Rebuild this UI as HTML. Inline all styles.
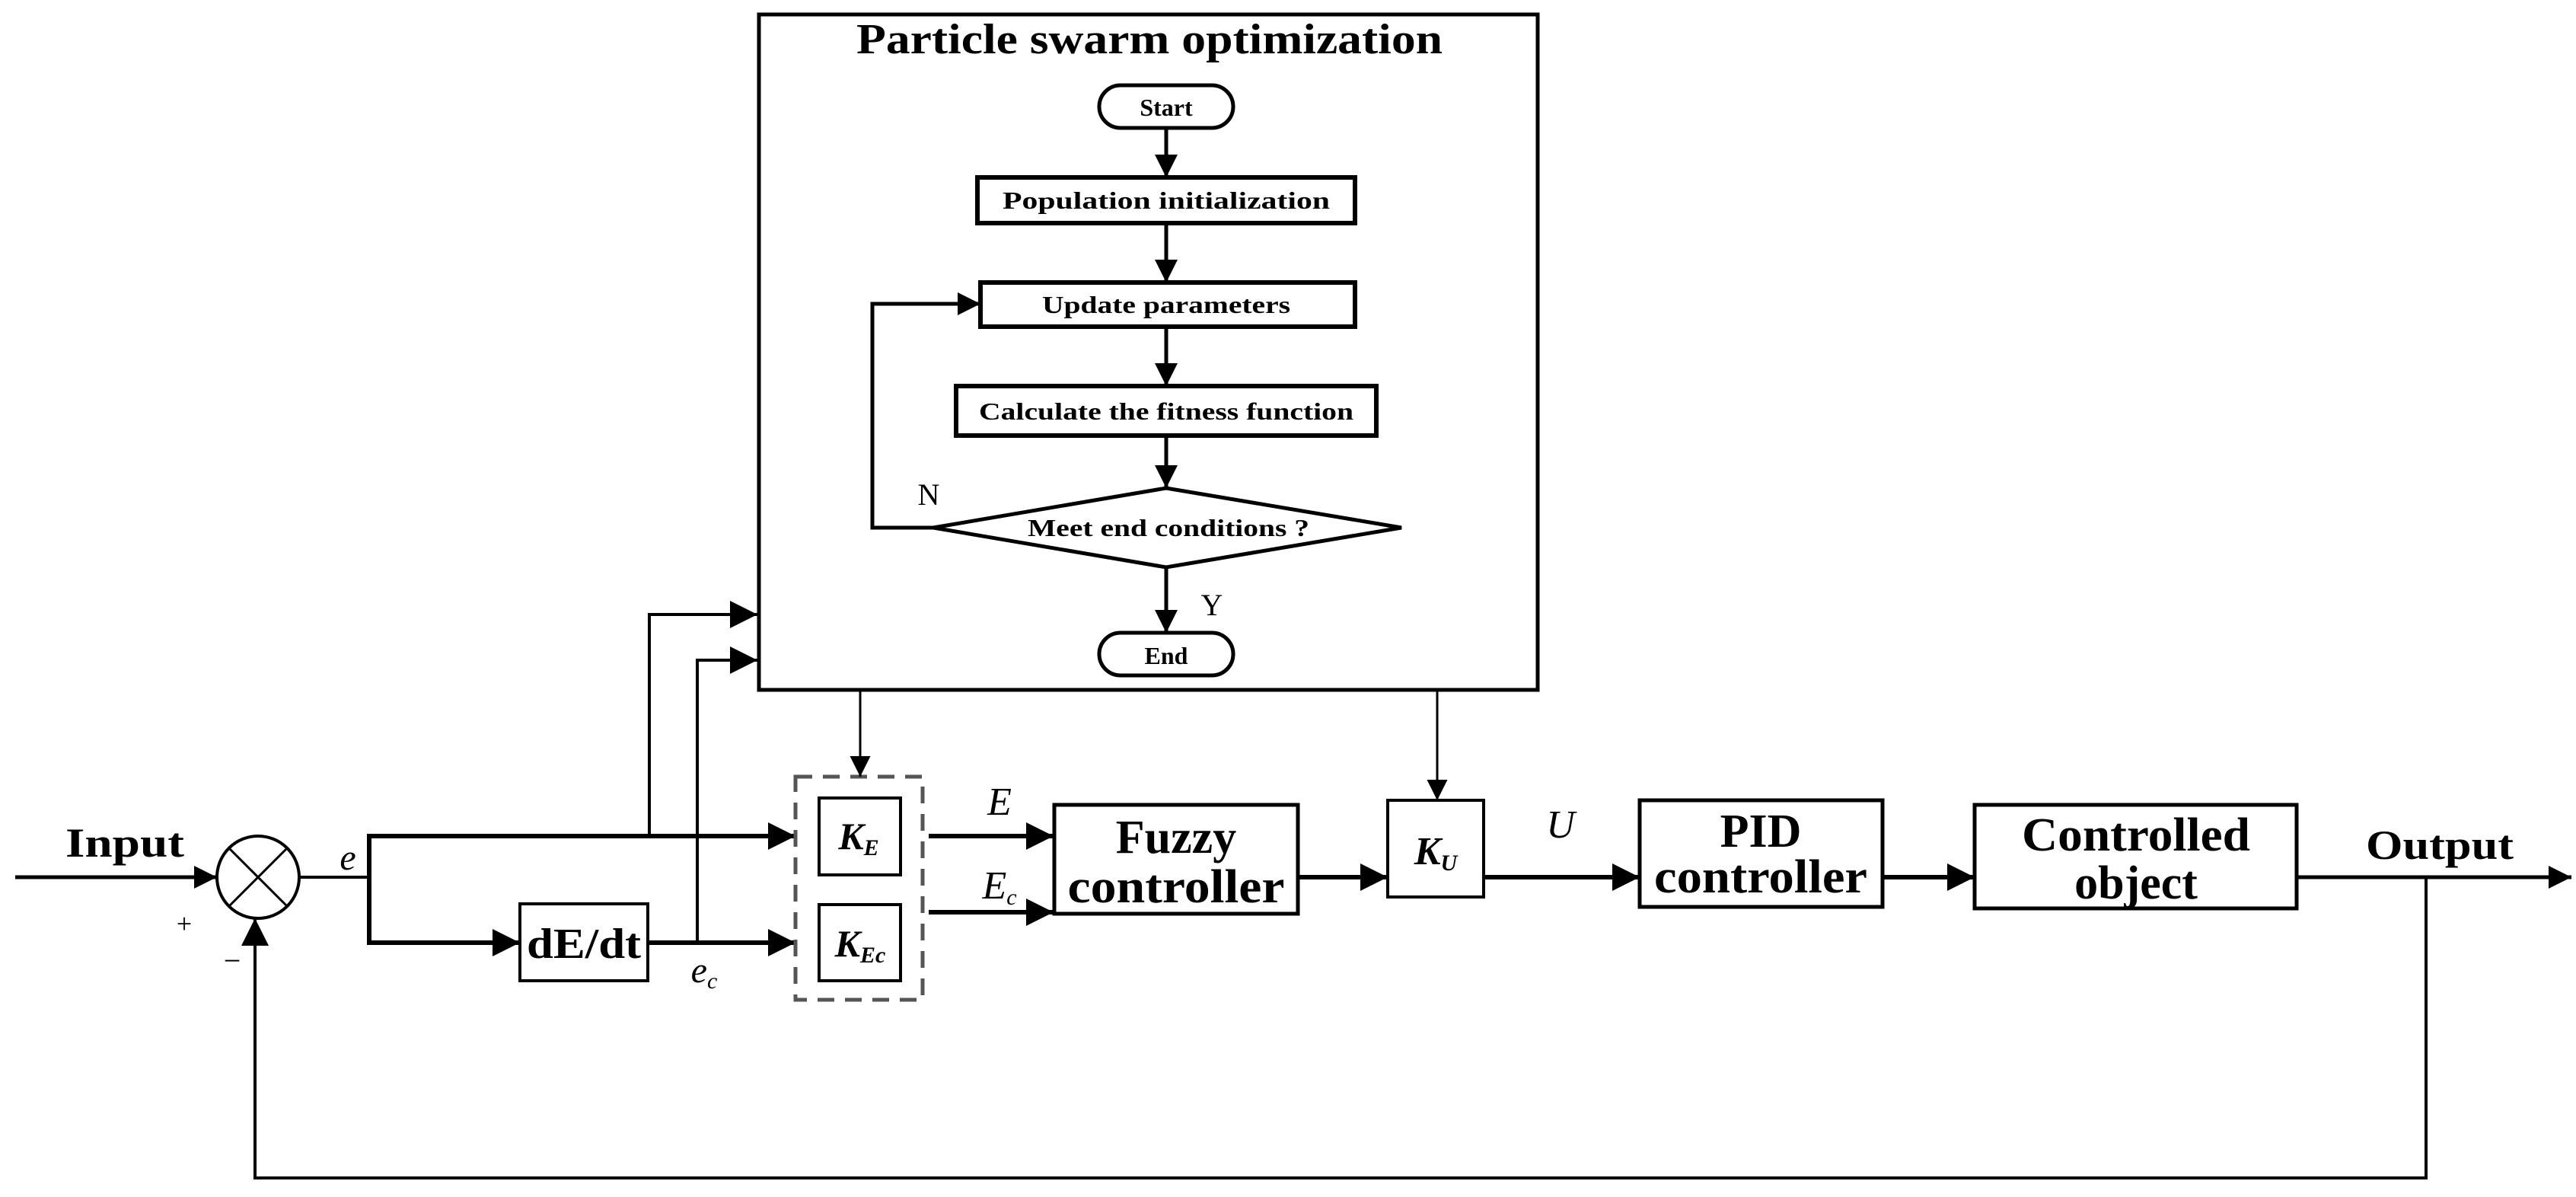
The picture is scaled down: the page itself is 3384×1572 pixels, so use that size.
<!DOCTYPE html>
<html><head><meta charset="utf-8"><style>html,body{margin:0;padding:0;background:#fff}svg{display:block}</style></head>
<body>
<svg width="3384" height="1572" viewBox="0 0 3384 1572" xmlns="http://www.w3.org/2000/svg" font-family="'Liberation Serif',serif" font-weight="bold">
<defs>
<marker id="a" viewBox="0 0 10 10" refX="10" refY="5" markerWidth="6" markerHeight="6" markerUnits="strokeWidth" orient="auto"><path d="M0,0L10,5L0,10z" fill="#000"/></marker>
<marker id="b" viewBox="0 0 10 10" refX="10" refY="5" markerWidth="9" markerHeight="9" markerUnits="strokeWidth" orient="auto"><path d="M0,0L10,5L0,10z" fill="#000"/></marker>
</defs>
<g stroke="#000" fill="none">
<!-- PSO box -->
<rect x="997" y="19" width="1023" height="887" stroke-width="5"/>
<rect x="1444" y="112" width="176" height="56" rx="28" stroke-width="5"/>
<rect x="1284" y="233" width="496" height="60" stroke-width="6"/>
<rect x="1288" y="371" width="492" height="58" stroke-width="6"/>
<rect x="1256" y="507" width="552" height="65" stroke-width="6"/>
<polygon points="1226,693 1532,641 1841,693 1532,745" stroke-width="5"/>
<rect x="1444" y="831" width="176" height="56" rx="28" stroke-width="5"/>
<g stroke-width="5">
<line x1="1532" y1="168" x2="1532" y2="233" marker-end="url(#a)"/>
<line x1="1532" y1="293" x2="1532" y2="371" marker-end="url(#a)"/>
<line x1="1532" y1="429" x2="1532" y2="507" marker-end="url(#a)"/>
<line x1="1532" y1="572" x2="1532" y2="641" marker-end="url(#a)"/>
<line x1="1532" y1="745" x2="1532" y2="831" marker-end="url(#a)"/>
<polyline points="1226,693 1146,693 1146,399 1288,399" marker-end="url(#a)"/>
</g>
<!-- main loop -->
<circle cx="339" cy="1152" r="54" stroke-width="4"/>
<line x1="301" y1="1114" x2="377" y2="1190" stroke-width="3"/>
<line x1="377" y1="1114" x2="301" y2="1190" stroke-width="3"/>
<line x1="20" y1="1152" x2="285" y2="1152" stroke-width="5" marker-end="url(#a)"/>
<line x1="393" y1="1152" x2="485" y2="1152" stroke-width="4"/>
<polyline points="485,1152 485,1098 1045,1098" stroke-width="6" marker-end="url(#a)"/>
<polyline points="485,1152 485,1238 683,1238" stroke-width="6" marker-end="url(#a)"/>
<rect x="683" y="1187" width="168" height="101" stroke-width="4"/>
<line x1="851" y1="1238" x2="1045" y2="1238" stroke-width="6" marker-end="url(#a)"/>
<polyline points="853,1098 853,807 995,807" stroke-width="4" marker-end="url(#b)"/>
<polyline points="916,1238 916,867 995,867" stroke-width="4" marker-end="url(#b)"/>
<rect x="1045" y="1020" width="167" height="293" stroke="#555" stroke-width="5" stroke-dasharray="22,14"/>
<rect x="1076" y="1048" width="107" height="101" stroke-width="4"/>
<rect x="1076" y="1188" width="107" height="100" stroke-width="4"/>
<line x1="1130" y1="906" x2="1130" y2="1020" stroke-width="3" marker-end="url(#b)"/>
<line x1="1220" y1="1098" x2="1384" y2="1098" stroke-width="6" marker-end="url(#a)"/>
<line x1="1220" y1="1198" x2="1384" y2="1198" stroke-width="6" marker-end="url(#a)"/>
<rect x="1385" y="1057" width="320" height="143" stroke-width="5"/>
<line x1="1705" y1="1152" x2="1823" y2="1152" stroke-width="6" marker-end="url(#a)"/>
<rect x="1823" y="1051" width="126" height="127" stroke-width="4"/>
<line x1="1888" y1="906" x2="1888" y2="1051" stroke-width="3" marker-end="url(#b)"/>
<line x1="1949" y1="1152" x2="2154" y2="1152" stroke-width="6" marker-end="url(#a)"/>
<rect x="2154" y="1051" width="319" height="140" stroke-width="5"/>
<line x1="2473" y1="1152" x2="2594" y2="1152" stroke-width="6" marker-end="url(#a)"/>
<rect x="2594" y="1057" width="423" height="136" stroke-width="5"/>
<line x1="3017" y1="1152" x2="3378" y2="1152" stroke-width="5" marker-end="url(#a)"/>
<polyline points="3187,1152 3187,1547 335,1547 335,1206" stroke-width="4" marker-end="url(#b)"/>
</g>
<g fill="#000" text-anchor="middle">
<text x="1510" y="70" font-size="56" textLength="770" lengthAdjust="spacingAndGlyphs">Particle swarm optimization</text>
<text x="1532" y="152" font-size="32">Start</text>
<text x="1532" y="274" font-size="32" textLength="430" lengthAdjust="spacingAndGlyphs">Population initialization</text>
<text x="1532" y="411" font-size="32" textLength="326" lengthAdjust="spacingAndGlyphs">Update parameters</text>
<text x="1532" y="551" font-size="32" textLength="492" lengthAdjust="spacingAndGlyphs">Calculate the fitness function</text>
<text x="1535" y="704" font-size="32" textLength="370" lengthAdjust="spacingAndGlyphs">Meet end conditions ?</text>
<text x="1532" y="872" font-size="32">End</text>
<text x="1220" y="663" font-size="40" font-weight="normal">N</text>
<text x="1592" y="808" font-size="40" font-weight="normal">Y</text>
<text x="164" y="1125" font-size="54" textLength="156" lengthAdjust="spacingAndGlyphs">Input</text>
<text x="3205" y="1128" font-size="54" textLength="194" lengthAdjust="spacingAndGlyphs">Output</text>
<text x="242" y="1225" font-size="36" font-weight="normal">+</text>
<text x="305" y="1275" font-size="40" font-weight="normal">−</text>
<text x="457" y="1142" font-size="48" font-style="italic" font-weight="normal">e</text>
<text x="767" y="1258" font-size="56" textLength="150" lengthAdjust="spacingAndGlyphs">dE/dt</text>
<text x="925" y="1290" font-size="48" font-style="italic" font-weight="normal">e<tspan font-size="30" dy="8">c</tspan></text>
<text x="1128" y="1115" font-size="50" font-style="italic">K<tspan font-size="30" dy="8">E</tspan></text>
<text x="1130" y="1256" font-size="50" font-style="italic">K<tspan font-size="30" dy="8">Ec</tspan></text>
<text x="1313" y="1070" font-size="52" font-style="italic" font-weight="normal">E</text>
<text x="1313" y="1180" font-size="52" font-style="italic" font-weight="normal">E<tspan font-size="30" dy="8">c</tspan></text>
<text x="1545" y="1120" font-size="62">Fuzzy</text>
<text x="1545" y="1185" font-size="62" textLength="285" lengthAdjust="spacingAndGlyphs">controller</text>
<text x="1886" y="1135" font-size="52" font-style="italic">K<tspan font-size="30" dy="8">U</tspan></text>
<text x="2050" y="1100" font-size="52" font-style="italic" font-weight="normal">U</text>
<text x="2313" y="1112" font-size="62">PID</text>
<text x="2313" y="1172" font-size="62" textLength="280" lengthAdjust="spacingAndGlyphs">controller</text>
<text x="2806" y="1117" font-size="62" textLength="300" lengthAdjust="spacingAndGlyphs">Controlled</text>
<text x="2806" y="1180" font-size="62">object</text>
</g>
</svg>
</body></html>
